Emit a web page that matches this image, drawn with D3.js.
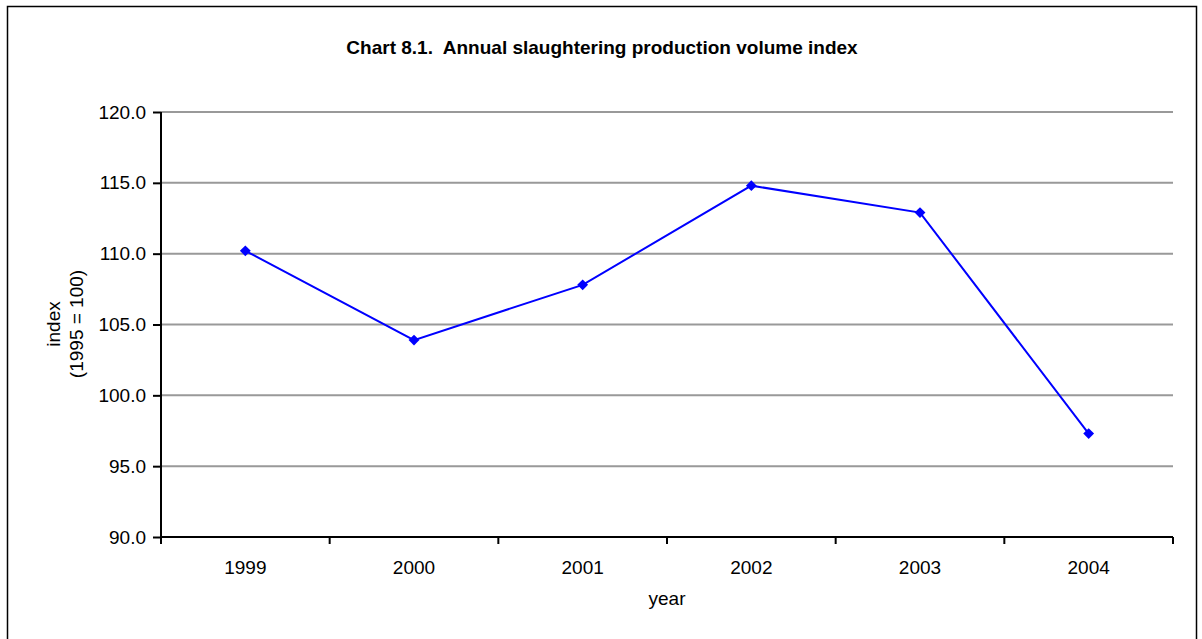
<!DOCTYPE html>
<html>
<head>
<meta charset="utf-8">
<script src="https://cdn.jsdelivr.net/npm/d3@7"></script>
<style>
  body { margin: 0; background: #fff; }
  text { font-family: "Liberation Sans", Arial, sans-serif; fill: #000; }
</style>
</head>
<body>
<div id="chart"></div>
<script>
// values
var years = ['1999', '2000', '2001', '2002', '2003', '2004'];
var indexValues = [110.2, 103.9, 107.8, 114.8, 112.9, 97.3];
var yTicks = [90, 95, 100, 105, 110, 115, 120];

var width = 1202;
var height = 639;
var margin = { top: 112, right: 29, bottom: 102, left: 161 };
var plotW = width - margin.left - margin.right;
var plotH = height - margin.top - margin.bottom;

var svg = d3.select('#chart')
  .append('svg')
  .attr('width', width)
  .attr('height', height);

// outer frame
svg.append('rect')
  .attr('x', 7.5).attr('y', 6.5)
  .attr('width', 1189).attr('height', 640)
  .attr('fill', 'none').attr('stroke', '#000').attr('stroke-width', 1.5);

svg.append('text')
  .attr('x', 602).attr('y', 54)
  .attr('text-anchor', 'middle')
  .style('font-size', '19px').style('font-weight', 'bold')
  .style('white-space', 'pre')
  .text('Chart 8.1.  Annual slaughtering production volume index');

var g = svg.append('g')
  .attr('transform', 'translate(' + margin.left + ',' + margin.top + ')');

var x = d3.scaleBand().domain(years).range([0, plotW]);
var y = d3.scaleLinear().domain([90, 120]).range([plotH, 0]);

// gridlines
g.selectAll('.grid')
  .data(yTicks.filter(function(d) { return d > 90; }))
  .enter()
  .append('line')
  .attr('x1', 0).attr('x2', plotW)
  .attr('y1', function(d) { return y(d); })
  .attr('y2', function(d) { return y(d); })
  .attr('stroke', '#999').attr('stroke-width', 2);

// y axis
var yAxis = g.append('g')
  .call(d3.axisLeft(y).tickValues(yTicks).tickFormat(d3.format('.1f')).tickSize(8).tickPadding(7));
yAxis.select('.domain').attr('stroke-width', 2).attr('d', 'M0,' + (plotH + 7) + 'V0');
yAxis.selectAll('.tick line').attr('stroke-width', 2);
yAxis.selectAll('text').style('font-size', '19px');

// x axis with ticks between categories
var xAxis = g.append('g')
  .attr('transform', 'translate(0,' + plotH + ')')
  .call(d3.axisBottom(x).tickSize(0).tickPadding(24));
xAxis.select('.domain').attr('stroke-width', 2).attr('d', 'M0,0H' + plotW);
xAxis.selectAll('text').style('font-size', '19px');

var bounds = years.map(function(d) { return x(d); }).concat([plotW]);
xAxis.selectAll('.sep')
  .data(bounds.slice(1))
  .enter()
  .append('line')
  .attr('x1', function(d) { return d; })
  .attr('x2', function(d) { return d; })
  .attr('y1', 0).attr('y2', 7)
  .attr('stroke', '#000').attr('stroke-width', 2);

// axis titles
svg.append('text')
  .attr('transform', 'translate(60,324) rotate(-90)')
  .attr('text-anchor', 'middle')
  .style('font-size', '19px')
  .text('index');
svg.append('text')
  .attr('transform', 'translate(83,324) rotate(-90)')
  .attr('text-anchor', 'middle')
  .style('font-size', '19px')
  .text('(1995 = 100)');

svg.append('text')
  .attr('x', margin.left + x('2002')).attr('y', 605)
  .attr('text-anchor', 'middle')
  .style('font-size', '19px')
  .text('year');

// series
var cx = function(d, i) { return x(years[i]) + x.bandwidth() / 2; };

var line = d3.line()
  .x(cx)
  .y(function(d) { return y(d); });

g.append('path')
  .datum(indexValues)
  .attr('d', line)
  .attr('fill', 'none')
  .attr('stroke', '#0000ff')
  .attr('stroke-width', 2);

g.selectAll('.pt')
  .data(indexValues)
  .enter()
  .append('path')
  .attr('d', d3.symbol().type(d3.symbolDiamond2).size(75))
  .attr('transform', function(d, i) { return 'translate(' + cx(d, i) + ',' + y(d) + ')'; })
  .attr('fill', '#0000ff');
</script>
</body>
</html>
